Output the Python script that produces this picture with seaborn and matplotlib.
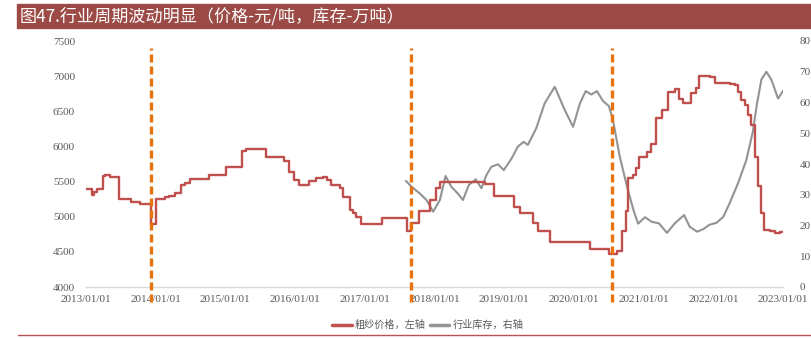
import matplotlib
matplotlib.use("Agg")
import matplotlib.pyplot as plt
import matplotlib.dates as mdates
from matplotlib.lines import Line2D
from matplotlib.patches import Rectangle
import numpy as np
import pandas as pd
import seaborn as sns

# 粗纱价格（元/吨），按调价日期记录
price_dates = [
    "2013-01-01", "2013-02-01", "2013-02-10", "2013-03-01", "2013-04-01", "2013-04-08",
    "2013-05-05", "2013-06-22", "2013-08-26", "2013-10-13", "2013-12-10", "2014-01-05",
    "2014-02-18", "2014-03-10", "2014-04-10", "2014-05-15", "2014-06-06", "2014-07-01",
    "2014-10-10", "2015-01-06", "2015-03-30", "2015-04-20", "2015-08-01", "2015-11-05",
    "2015-12-01", "2015-12-27", "2016-01-20", "2016-03-14", "2016-04-18", "2016-05-25",
    "2016-06-17", "2016-07-10", "2016-08-22", "2016-09-06", "2016-10-14", "2016-11-01",
    "2016-11-15", "2016-12-10", "2017-04-03", "2017-08-12", "2017-08-29", "2017-10-12",
    "2017-12-07", "2018-01-08", "2018-01-29", "2018-09-21", "2018-11-09", "2019-02-21",
    "2019-03-26", "2019-05-30", "2019-06-25", "2019-08-27", "2020-03-28", "2020-07-03",
    "2020-08-13", "2020-09-12", "2020-10-03", "2020-10-11", "2020-11-04", "2020-11-21",
    "2020-12-07", "2021-01-17", "2021-02-08", "2021-03-05", "2021-04-09", "2021-05-08",
    "2021-06-13", "2021-07-05", "2021-07-26", "2021-09-05", "2021-10-01", "2021-10-19",
    "2021-12-14", "2022-01-10", "2022-03-27", "2022-04-23", "2022-05-10", "2022-05-24",
    "2022-06-14", "2022-07-01", "2022-07-19", "2022-08-06", "2022-08-23", "2022-09-10",
    "2022-09-24", "2022-10-24", "2022-11-19", "2022-12-15", "2023-01-15",
]
price_values = [
    5400, 5310, 5350, 5400, 5580, 5600,
    5560, 5250, 5210, 5185, 4900, 5250,
    5280, 5300, 5340, 5450, 5485, 5540,
    5595, 5710, 5940, 5960, 5855, 5790,
    5640, 5520, 5450, 5510, 5545, 5560,
    5520, 5450, 5405, 5285, 5095, 5055,
    5000, 4890, 4985, 4800, 4915, 5085,
    5240, 5410, 5500, 5470, 5295, 5145,
    5050, 4905, 4790, 4645, 4535, 4465,
    4515, 4800, 5080, 5545, 5595, 5690,
    5855, 5925, 6035, 6400, 6520, 6770,
    6815, 6675, 6620, 6755, 6830, 7005,
    6985, 6905, 6890, 6875, 6780, 6660,
    6590, 6450, 6305, 5855, 5430, 5050,
    4810, 4790, 4765, 4780, 4770,
]

# 行业库存（万吨）
stock_dates = [
    "2017-08-04", "2017-09-03", "2017-10-16", "2017-11-20", "2017-12-25", "2018-01-29",
    "2018-02-28", "2018-03-30", "2018-05-03", "2018-05-30", "2018-06-30", "2018-08-05",
    "2018-09-04", "2018-09-30", "2018-10-26", "2018-11-30", "2018-12-30", "2019-02-09",
    "2019-03-13", "2019-04-13", "2019-05-05", "2019-06-18", "2019-08-01", "2019-09-23",
    "2019-11-15", "2019-12-28", "2020-02-02", "2020-03-03", "2020-04-02", "2020-05-01",
    "2020-06-02", "2020-07-03", "2020-07-24", "2020-08-29", "2020-10-06", "2020-11-11",
    "2020-12-03", "2021-01-08", "2021-02-12", "2021-03-22", "2021-05-03", "2021-06-13",
    "2021-08-01", "2021-08-30", "2021-10-08", "2021-11-09", "2021-12-10", "2022-01-18",
    "2022-02-22", "2022-03-27", "2022-05-10", "2022-06-23", "2022-07-27", "2022-08-18",
    "2022-09-10", "2022-10-06", "2022-11-02", "2022-12-06", "2023-01-07",
]
stock_values = [
    34.5, 32.6, 30.4, 28.3, 24.5, 28.3,
    36.1, 32.6, 30.4, 28.3, 33.2, 35.0,
    32.1, 36.4, 39.1, 39.9, 38.0, 41.8,
    45.6, 47.2, 46.2, 51.6, 59.7, 65.1,
    57.5, 52.1, 59.7, 63.7, 62.6, 63.7,
    60.5, 58.8, 54.3, 42.3, 32.6, 24.5,
    20.6, 22.7, 21.2, 20.7, 17.6, 20.7,
    23.4, 19.6, 18.0, 18.8, 20.2, 20.9,
    22.8, 27.2, 33.7, 41.3, 50.5, 59.7,
    67.5, 70.0, 67.3, 61.3, 64.3,
]

# 周期拐点
cycle_marks = ["2013-12-05", "2017-08-29", "2020-07-20"]

title_text = "图47.行业周期波动明显（价格-元/吨，库存-万吨）"
price_label = "粗纱价格，左轴"
stock_label = "行业库存，右轴"

price_df = pd.DataFrame({"date": pd.to_datetime(price_dates), "price": price_values})
stock_df = pd.DataFrame({"date": pd.to_datetime(stock_dates), "stock": stock_values})

sns.set_theme(style="white")
plt.rcParams["font.family"] = ["Noto Sans CJK SC", "DejaVu Sans"]

RED = "#C0504D"
GRAY = "#939393"
ORANGE = "#E8720C"
TICK = "#595959"
BAR = "#9C4A45"
serif = ["Liberation Serif", "DejaVu Serif"]

fig = plt.figure(figsize=(8.11, 3.38), dpi=100)
ax = fig.add_axes([86 / 811, 1 - 287 / 338, (783 - 86) / 811, 246 / 338])
ax2 = ax.twinx()

sns.lineplot(data=price_df, x="date", y="price", ax=ax, color=RED, lw=1.7,
             drawstyle="steps-post", zorder=3)
sns.lineplot(data=stock_df, x="date", y="stock", ax=ax2, color=GRAY, lw=1.5,
             solid_joinstyle="round", solid_capstyle="round", zorder=2)
ax.set_zorder(ax2.get_zorder() + 1)
ax.patch.set_visible(False)

ax.set_xlim(pd.Timestamp("2013-01-01"), pd.Timestamp("2023-01-01"))
ax.set_ylim(4000, 7500)
ax2.set_ylim(0, 80)
ax.set_yticks(np.arange(4000, 7501, 500))
ax2.set_yticks(np.arange(0, 81, 10))
ax.xaxis.set_major_locator(mdates.YearLocator())
ax.xaxis.set_major_formatter(mdates.DateFormatter("%Y/%m/%d"))
ax.set_xlabel("")
ax.set_ylabel("")
ax2.set_ylabel("")

for a in (ax, ax2):
    for side in ("top", "left", "right", "bottom"):
        a.spines[side].set_visible(False)
ax.spines["bottom"].set_visible(True)
ax.spines["bottom"].set_color("#D9D9D9")
ax.spines["bottom"].set_linewidth(1.0)

ax.tick_params(axis="x", direction="in", length=4, color="#D9D9D9", pad=6,
               labelsize=8, labelcolor=TICK)
ax.tick_params(axis="y", length=0, pad=8, labelsize=8, labelcolor=TICK)
ax2.tick_params(axis="y", length=0, pad=12, labelsize=8, labelcolor=TICK)
for lab in ax.get_xticklabels() + ax.get_yticklabels() + ax2.get_yticklabels():
    lab.set_fontfamily(serif)

for d in cycle_marks:
    ax.axvline(pd.Timestamp(d), ymin=-0.062, ymax=0.972, color=ORANGE, lw=2.4,
               ls=(0, (2.4, 1.2)), clip_on=False, zorder=5)

# 标题栏
fig.patches.append(Rectangle((17 / 811, 1 - 28 / 338), 1 - 17 / 811, 24 / 338,
                             transform=fig.transFigure, color=BAR, zorder=0))
fig.text(20 / 811, 1 - 16 / 338, title_text, color="white", fontsize=12.3,
         va="center", ha="left")

# 底部分隔线
fig.add_artist(Line2D([18 / 811, 1.0], [1 - 335 / 338] * 2, color="#B85450", lw=1.0,
                      transform=fig.transFigure))

handles = [Line2D([0], [0], color=RED, lw=2.5), Line2D([0], [0], color=GRAY, lw=2.5)]
leg = fig.legend(handles, [price_label, stock_label], loc="center",
                 bbox_to_anchor=(428 / 811, 1 - 325 / 338), ncol=2, frameon=False,
                 fontsize=7.3, handlelength=1.9, handletextpad=0.35, columnspacing=0.4)
for t in leg.get_texts():
    t.set_color(TICK)

fig.savefig("out.png", dpi=100)
